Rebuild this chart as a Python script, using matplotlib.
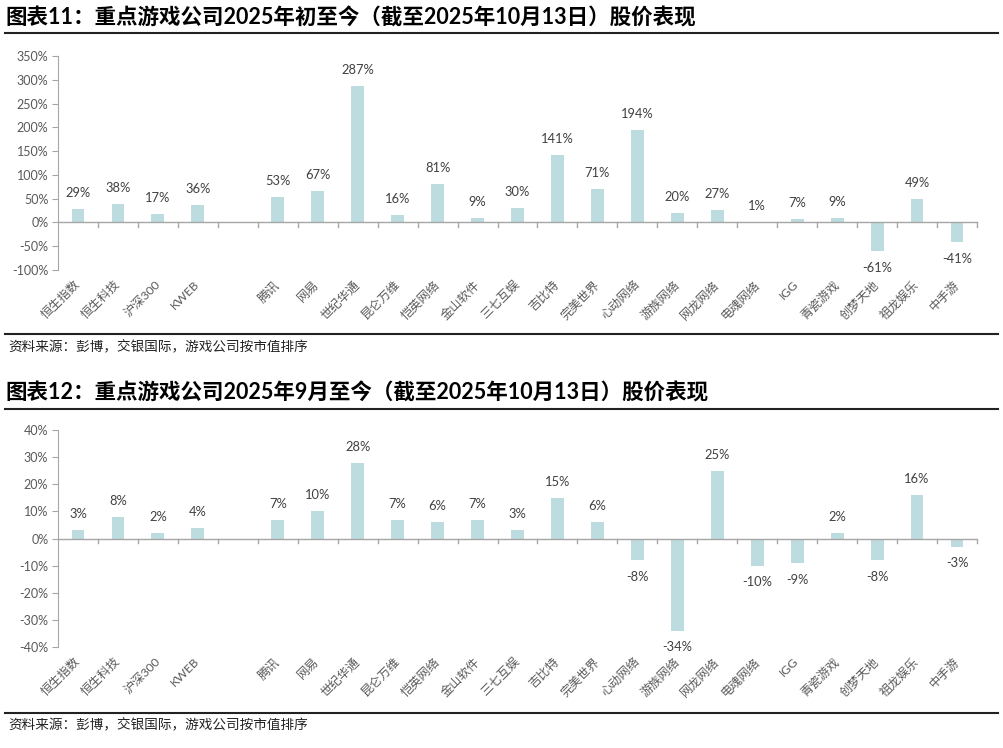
import numpy as np
import matplotlib
matplotlib.use("Agg")
import matplotlib.pyplot as plt

plt.rcParams['font.family'] = ['Lato', 'Noto Sans CJK SC', 'DejaVu Sans']

# categories ("" marks the empty gap slot)
names = ["恒生指数", "恒生科技", "沪深300", "KWEB", "", "腾讯", "网易", "世纪华通",
         "昆仑万维", "恺英网络", "金山软件", "三七互娱", "吉比特", "完美世界", "心动网络",
         "游族网络", "网龙网络", "电魂网络", "IGG", "青瓷游戏", "创梦天地", "祖龙娱乐", "中手游"]

# % change, 2025 YTD
ytd = [29, 38, 17, 36, np.nan, 53, 67, 287, 16, 81, 9, 30, 141, 71, 194,
       20, 27, 1, 7, 9, -61, 49, -41]
# % change since Sep 2025
sep = [3, 8, 2, 4, np.nan, 7, 10, 28, 7, 6, 7, 3, 15, 6, -8,
       -34, 25, -10, -9, 2, -8, 16, -3]

title1 = "图表11：重点游戏公司2025年初至今（截至2025年10月13日）股价表现"
title2 = "图表12：重点游戏公司2025年9月至今（截至2025年10月13日）股价表现"
source = "资料来源：彭博，交银国际，游戏公司按市值排序"

bar_color = "#bddcdf"
grey = "#595959"
W, H = 1004, 748

fig = plt.figure(figsize=(W / 100, H / 100), dpi=100)


def px(y):
    return 1 - y / H


def draw_panel(vals, ymin, ymax, step, top, bottom, title_y, rule_y, src_rule_y, src_y, ttl):
    fig.text(5 / W, px(title_y), ttl, fontsize=15.5, fontweight='bold',
             va='center', ha='left', color='black')
    fig.add_artist(plt.Line2D([5 / W, 998 / W], [px(rule_y), px(rule_y)], color='#222222', lw=1.5))
    fig.add_artist(plt.Line2D([5 / W, 998 / W], [px(src_rule_y), px(src_rule_y)], color='#222222', lw=1.5))
    fig.text(8 / W, px(src_y), source, fontsize=9.8, va='center', ha='left',
             color='#222222', fontstyle='italic')

    ax = fig.add_axes([58 / W, px(bottom), 919 / W, (bottom - top) / H])
    x = np.arange(len(names))
    ax.bar(x, vals, width=0.32, color=bar_color, zorder=2)
    for xi, v in zip(x, vals):
        if np.isnan(v):
            continue
        off = 11.5 if v >= 0 else -12
        ax.annotate(f"{v:.0f}%", (xi, v), xytext=(0, off), textcoords='offset points',
                    ha='center', va='center', fontsize=9.3, color='#404040')

    ax.set_xlim(-0.5, len(names) - 0.5)
    ax.set_ylim(ymin, ymax)
    ticks = np.arange(ymin, ymax + step / 2, step)
    ax.set_yticks(ticks)
    ax.set_yticklabels([f"{t:.0f}%" for t in ticks], fontsize=9, color=grey)
    for s in ['top', 'right', 'bottom']:
        ax.spines[s].set_visible(False)
    ax.spines['left'].set_color('#a6a6a6')
    ax.tick_params(axis='y', length=4, color='#a6a6a6', pad=3)

    # zero line with boundary ticks
    ax.axhline(0, color='#a6a6a6', lw=1, zorder=3)
    yr = ymax - ymin
    for b in np.arange(0.5, len(names) - 0.5 + 1e-9, 1.0):
        ax.plot([b, b], [0, -yr * 0.022], color='#a6a6a6', lw=1, zorder=3, clip_on=False)

    ax.set_xticks([])
    for xi, n in zip(x, names):
        if not n:
            continue
        ax.annotate(n, (xi, ymin), xytext=(-3, -6), textcoords='offset points',
                    rotation=45, ha='right', va='top', rotation_mode='anchor',
                    fontsize=8.8, color=grey, annotation_clip=False)
    return ax


draw_panel(ytd, -100, 350, 50, 56, 270, 18, 33, 334, 346, title1)
draw_panel(sep, -40, 40, 10, 430, 647, 393, 409, 713, 724, title2)

fig.savefig("out.png", dpi=100)
